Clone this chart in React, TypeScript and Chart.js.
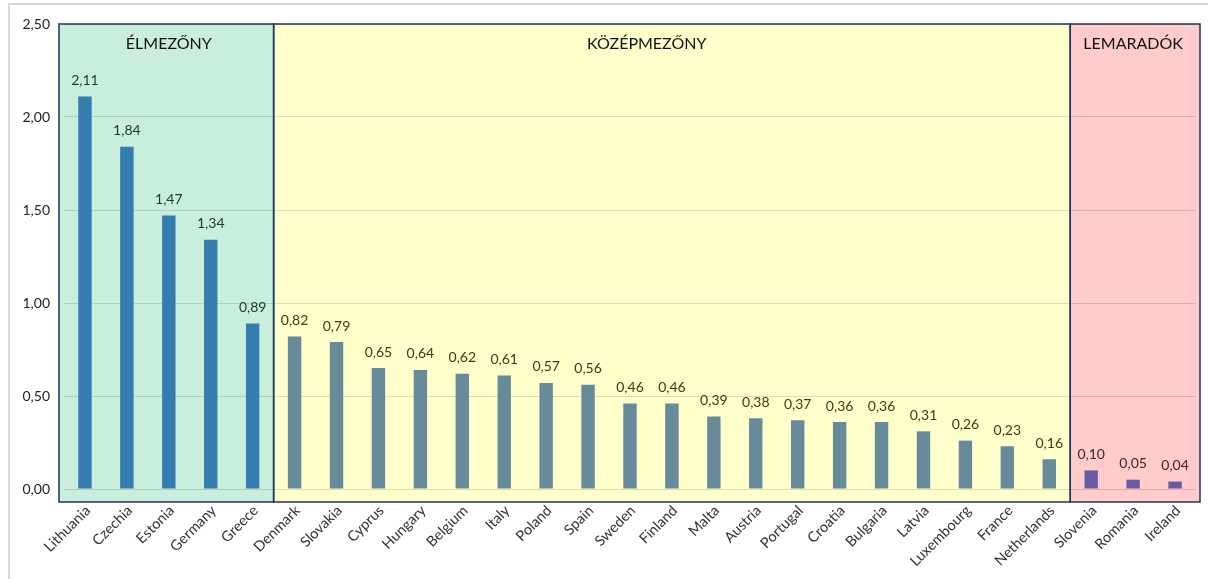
import React, { useEffect, useRef } from "react";
import { Chart, registerables } from "chart.js";

Chart.register(...registerables);

const countries = [
  "Lithuania", "Czechia", "Estonia", "Germany", "Greece",
  "Denmark", "Slovakia", "Cyprus", "Hungary", "Belgium", "Italy", "Poland", "Spain",
  "Sweden", "Finland", "Malta", "Austria", "Portugal", "Croatia", "Bulgaria", "Latvia",
  "Luxembourg", "France", "Netherlands",
  "Slovenia", "Romania", "Ireland",
];
const values = [
  2.11, 1.84, 1.47, 1.34, 0.89,
  0.82, 0.79, 0.65, 0.64, 0.62, 0.61, 0.57, 0.56,
  0.46, 0.46, 0.39, 0.38, 0.37, 0.36, 0.36, 0.31,
  0.26, 0.23, 0.16,
  0.10, 0.05, 0.04,
];

const zoneNames = ["ÉLMEZŐNY", "KÖZÉPMEZŐNY", "LEMARADÓK"];
const zoneStart = [0, 5, 24];
const zoneEnd = [4, 23, 26];
const zoneLabelAt = [2, 13.4, 25];
const zoneFills = ["#c9eedb", "#ffffcc", "#ffcbcb"];
const zoneBarColors = ["#357caf", "#678b9b", "#6a5ba0"];
const zoneTextColors = ["#183a28", "#3c3c12", "#4a1c1c"];

const yTicks = [0, 0.5, 1, 1.5, 2, 2.5];

const zoneOf = (i: number) => zoneStart.findIndex((s, z) => i >= s && i <= zoneEnd[z]);

const FONT = "Lato, 'Open Sans', sans-serif";

export default function App() {
  const ref = useRef<HTMLCanvasElement | null>(null);

  useEffect(() => {
    if (!ref.current) return;

    const zonesPlugin = {
      id: "zones",
      beforeDraw(chart: any) {
        const { ctx, chartArea, scales } = chart;
        const x = scales.x;
        const step = x.width / countries.length;
        ctx.save();
        zoneNames.forEach((_, z) => {
          const l = z === 0 ? chartArea.left - 5 : x.getPixelForValue(zoneStart[z]) - step / 2;
          const r = z === zoneNames.length - 1 ? chartArea.right + 4 : x.getPixelForValue(zoneEnd[z]) + step / 2;
          ctx.fillStyle = zoneFills[z];
          ctx.fillRect(l, chartArea.top, r - l, chartArea.bottom + 13 - chartArea.top);
        });
        ctx.restore();
      },
      afterDatasetsDraw(chart: any) {
        const { ctx, chartArea, scales } = chart;
        const x = scales.x;
        const step = x.width / countries.length;
        ctx.save();
        ctx.strokeStyle = "#1f3560";
        ctx.lineWidth = 1.5;
        zoneNames.forEach((name, z) => {
          const l = z === 0 ? chartArea.left - 5 : x.getPixelForValue(zoneStart[z]) - step / 2;
          const r = z === zoneNames.length - 1 ? chartArea.right + 4 : x.getPixelForValue(zoneEnd[z]) + step / 2;
          ctx.strokeRect(l, chartArea.top, r - l, chartArea.bottom + 13 - chartArea.top);
          ctx.fillStyle = "#111111";
          ctx.font = `16px ${FONT}`;
          ctx.textAlign = "center";
          ctx.textBaseline = "middle";
          const cx = step * (zoneLabelAt[z] + 0.5) + chartArea.left;
          ctx.fillText(name, cx, chartArea.top + 20);
        });
        // value labels
        const meta = chart.getDatasetMeta(0);
        ctx.font = `14px ${FONT}`;
        ctx.textAlign = "center";
        ctx.textBaseline = "bottom";
        meta.data.forEach((bar: any, i: number) => {
          ctx.fillStyle = zoneTextColors[zoneOf(i)];
          ctx.fillText(values[i].toFixed(2).replace(".", ","), bar.x, bar.y - 9);
        });
        ctx.restore();
      },
    };

    const chart = new Chart(ref.current, {
      type: "bar",
      data: {
        labels: countries,
        datasets: [
          {
            data: values,
            backgroundColor: values.map((_, i) => zoneBarColors[zoneOf(i)]),
            borderWidth: 0,
            barPercentage: 0.32,
            categoryPercentage: 1,
          },
        ],
      },
      options: {
        animation: false,
        responsive: false,
        maintainAspectRatio: false,
        layout: { padding: { top: 24, right: 12, left: 0, bottom: 0 } },
        plugins: {
          legend: { display: false },
          tooltip: { enabled: false },
          title: { display: false },
        },
        scales: {
          x: {
            grid: { display: false, drawTicks: false },
            border: { display: false },
            ticks: {
              autoSkip: false,
              maxRotation: 45,
              minRotation: 45,
              padding: 13,
              labelOffset: 3,
              color: "#333333",
              font: { family: FONT, size: 14.5 },
            },
            afterFit(scale: any) {
              scale.height = 90;
            },
          },
          y: {
            min: 0,
            max: 2.5,
            grid: { color: "rgba(0,0,0,0.13)", drawTicks: false, lineWidth: 1 },
            border: { display: false },
            afterBuildTicks(scale: any) {
              scale.ticks = yTicks.map((v) => ({ value: v }));
            },
            ticks: {
              padding: 14,
              color: "#222222",
              font: { family: FONT, size: 14 },
              callback: (v: any) => Number(v).toFixed(2).replace(".", ","),
            },
            afterFit(scale: any) {
              scale.width = 64;
            },
          },
        },
      },
      plugins: [zonesPlugin],
    });
    return () => chart.destroy();
  }, []);

  return (
    <div style={{ position: "fixed", left: 0, top: 0, width: 1208, height: 579, background: "#ffffff", overflow: "hidden" }}>
      <div
        style={{
          position: "absolute",
          left: 8,
          top: 3,
          width: 1300,
          height: 700,
          borderLeft: "2px solid #d9d9d9",
          borderTop: "2px solid #d9d9d9",
        }}
      />
      <canvas ref={ref} width={1208} height={579} style={{ position: "absolute", left: 0, top: 0 }} />
    </div>
  );
}
